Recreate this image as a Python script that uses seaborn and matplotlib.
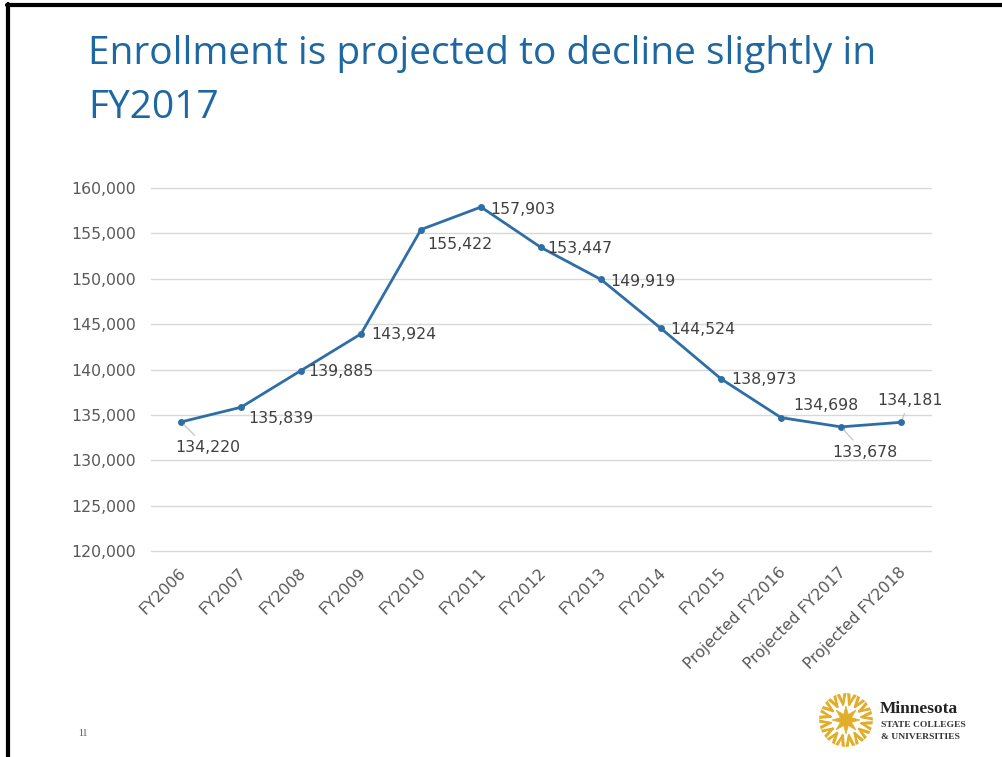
import numpy as np
import pandas as pd
import matplotlib
matplotlib.use("Agg")
import matplotlib.pyplot as plt
import matplotlib.transforms as mtransforms
from matplotlib.patches import Polygon
from matplotlib.lines import Line2D
import seaborn as sns

# ---- data ----
years = ["FY2006", "FY2007", "FY2008", "FY2009", "FY2010", "FY2011", "FY2012",
         "FY2013", "FY2014", "FY2015", "Projected FY2016", "Projected FY2017",
         "Projected FY2018"]
enrollment = [134220, 135839, 139885, 143924, 155422, 157903, 153447,
              149919, 144524, 138973, 134698, 133678, 134181]
yticks = [120000, 125000, 130000, 135000, 140000, 145000, 150000, 155000, 160000]
title_text = "Enrollment is projected to decline slightly in\nFY2017"

# label offsets in pixels (dx, dy, leader line?)
label_offsets = [(-6, -26, True), (7, -11, False), (7, -1, False), (10, -1, False),
                 (6, -15, False), (9, -2, False), (6, -1, False), (9, -2, False),
                 (9, -1, False), (10, -1, False), (12, 12, True), (-9, -26, True),
                 (-24, 22, True)]

sns.set_theme(style="white")
plt.rcParams["font.family"] = ["DejaVu Sans"]

df = pd.DataFrame({"year": years, "enrollment": enrollment, "pos": np.arange(len(years))})

fig = plt.figure(figsize=(10.03, 7.57), dpi=100)
ax = fig.add_axes([151 / 1003, 1 - 551 / 757, (931 - 151) / 1003, (551 - 188) / 757])

line_color = "#2E6EA6"
sns.lineplot(data=df, x="pos", y="enrollment", ax=ax, color=line_color, linewidth=2.0,
             marker="o", markersize=5, markeredgewidth=0, legend=False)

fs = 11.3
ax.set_xlim(-0.5, len(years) - 0.5)
ax.set_ylim(120000, 160000)
ax.set_yticks(yticks)
ax.set_yticklabels([f"{v:,}" for v in yticks], color="#595959", fontsize=fs)
ax.grid(axis="y", color="#D9D9D9", linewidth=1)
ax.grid(axis="x", visible=False)
ax.set_axisbelow(True)
for gl in ax.get_ygridlines():
    gl.set_clip_on(False)
for s in ax.spines.values():
    s.set_visible(False)
ax.tick_params(axis="y", length=0, pad=11)
ax.tick_params(axis="x", length=0, pad=10)
ax.set_xticks(df["pos"])
ax.set_xticklabels(years, rotation=45, ha="right", rotation_mode="anchor",
                   color="#595959", fontsize=fs)
offset = mtransforms.ScaledTranslation(-3 / 100, 0, fig.dpi_scale_trans)
for lbl in ax.get_xticklabels():
    lbl.set_transform(lbl.get_transform() + offset)
ax.set_xlabel("")
ax.set_ylabel("")

for i, (v, (dx, dy, lead)) in enumerate(zip(enrollment, label_offsets)):
    kw = {}
    if lead:
        kw["arrowprops"] = dict(arrowstyle="-", color="#C8C8C8", lw=1.0, shrinkA=2, shrinkB=3)
    ax.annotate(f"{v:,}", xy=(i, v), xytext=(dx, dy), textcoords="offset pixels",
                ha="left", va="center", fontsize=fs, color="#404040", **kw)

# title
fig.text(88 / 1003, 1 - 35 / 757, title_text, ha="left", va="top", fontsize=28,
         color="#1D68A2", family=["Open Sans", "DejaVu Sans"], linespacing=1.55)

# slide frame
fig.add_artist(Line2D([8 / 1003, 8 / 1003], [0, 1 - 4 / 757], transform=fig.transFigure,
                      color="black", linewidth=3))
fig.add_artist(Line2D([7 / 1003, 1], [1 - 5 / 757, 1 - 5 / 757], transform=fig.transFigure,
                      color="black", linewidth=3))

# page number
fig.text(83 / 1003, 1 - 733 / 757, "11", fontsize=7, color="#555555",
         family=["Liberation Serif"], ha="center", va="center")

# logo: golden sunburst + text
cx, cy = 846, 720
def px(x, y):
    return (x / 1003, 1 - y / 757)
gold = "#E2AE2A"
n = 16
for k in range(n):
    a = 2 * np.pi * k / n + np.pi / 16
    for da in (-0.12, 0.12):
        b = a + da
        pts = [px(cx + 15 * np.cos(a), cy + 15 * np.sin(a)),
               px(cx + 26 * np.cos(b), cy + 26 * np.sin(b)),
               px(cx + 26 * np.cos(b + 0.06), cy + 26 * np.sin(b + 0.06)),
               px(cx + 17 * np.cos(a + 0.05), cy + 17 * np.sin(a + 0.05))]
        fig.add_artist(Polygon(pts, closed=True, transform=fig.transFigure,
                               facecolor=gold, edgecolor=gold, lw=1.2))
star = []
for k in range(16):
    a = np.pi * k / 8 - np.pi / 2
    rr = 14 if k % 2 == 0 else 6
    star.append(px(cx + rr * np.cos(a), cy + rr * np.sin(a)))
fig.add_artist(Polygon(star, closed=True, transform=fig.transFigure,
                       facecolor=gold, edgecolor=gold, lw=0.5))
fig.text(880 / 1003, 1 - 709 / 757, "Minnesota", fontsize=12.5, fontweight="bold",
         family=["Liberation Serif"], color="#222222", va="center")
fig.text(881 / 1003, 1 - 725 / 757, "STATE COLLEGES", fontsize=6.8, fontweight="bold",
         family=["Liberation Serif"], color="#333333", va="center")
fig.text(881 / 1003, 1 - 737 / 757, "& UNIVERSITIES", fontsize=6.8, fontweight="bold",
         family=["Liberation Serif"], color="#333333", va="center")

fig.savefig("out.png", dpi=100, facecolor="white")
